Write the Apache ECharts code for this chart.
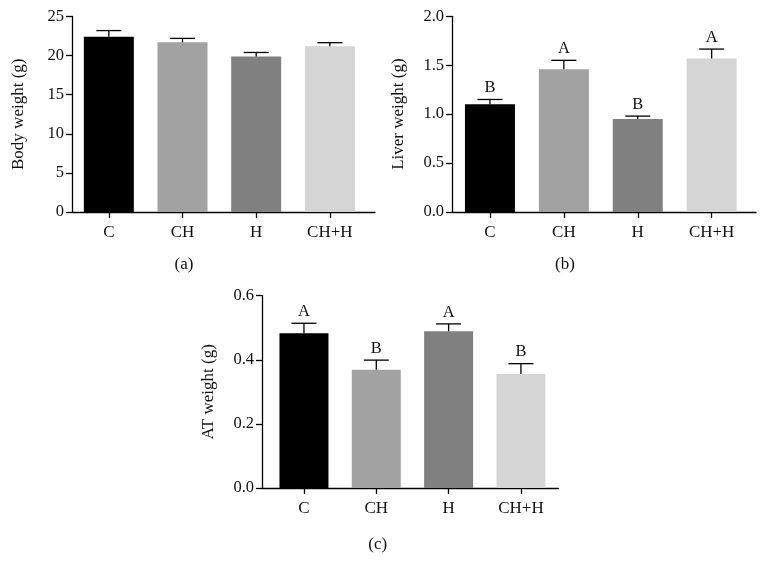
<!DOCTYPE html>
<html>
<head>
<meta charset="utf-8">
<script src="https://cdn.jsdelivr.net/npm/echarts@6/dist/echarts.min.js"></script>
<style>html,body{margin:0;padding:0;background:#fff;}#c{width:760px;height:575px;}</style>
</head>
<body>
<div id="c"></div>
<script>
const categories = ['C', 'CH', 'H', 'CH+H'];
const barColors = ['#000000', '#a2a2a2', '#808080', '#d5d5d5'];

const bodyMean = [22.4, 21.7, 19.9, 21.2];
const bodySem = [0.8, 0.5, 0.5, 0.45];
const bodyTicks = [0, 5, 10, 15, 20, 25];

const liverMean = [1.10, 1.46, 0.95, 1.57];
const liverSem = [0.05, 0.09, 0.03, 0.095];
const liverLetters = ['B', 'A', 'B', 'A'];
const liverTicks = [0.0, 0.5, 1.0, 1.5, 2.0];

const atMean = [0.483, 0.369, 0.489, 0.356];
const atSem = [0.031, 0.030, 0.023, 0.032];
const atLetters = ['A', 'B', 'A', 'B'];
const atTicks = [0.0, 0.2, 0.4, 0.6];

const FONT = '"Liberation Serif", "Times New Roman", serif';
const TXT = '#111';

const panels = [
  {frame: {left: 72, top: 16.5, width: 303, height: 195.5}, data: {left: 72, width: 294.7},
   mean: bodyMean, sem: bodySem, letters: null, ticks: bodyTicks, name: 'Body weight (g)', dec: 0, barW: 50, tag: '(a)', tagPos: [184, 265]},
  {frame: {left: 452, top: 16.3, width: 304, height: 195.7}, data: {left: 453, width: 295.6},
   mean: liverMean, sem: liverSem, letters: liverLetters, ticks: liverTicks, name: 'Liver weight (g)', dec: 1, barW: 50, tag: '(b)', tagPos: [565, 265]},
  {frame: {left: 262, top: 295.7, width: 296.3, height: 192.3}, data: {left: 267.8, width: 289.3},
   mean: atMean, sem: atSem, letters: atLetters, ticks: atTicks, name: 'AT weight (g)', dec: 1, barW: 49, tag: '(c)', tagPos: [377.7, 545]}
];

const grid = [], xAxis = [], yAxis = [], series = [], graphic = [];

panels.forEach((p, i) => {
  const fi = grid.length;
  grid.push(Object.assign({}, p.frame));
  const di = grid.length;
  grid.push({left: p.data.left, top: p.frame.top, width: p.data.width, height: p.frame.height});
  const tmin = p.ticks[0], tmax = p.ticks[p.ticks.length - 1];
  const step = p.ticks[1] - p.ticks[0];
  xAxis.push({gridIndex: fi, type: 'category', data: categories, axisLine: {show: true, lineStyle: {color: '#000', width: 1.3}},
    axisTick: {show: false}, axisLabel: {show: false}, splitLine: {show: false}});
  yAxis.push({gridIndex: fi, type: 'value', min: tmin, max: tmax, interval: step,
    axisLine: {show: true, lineStyle: {color: '#000', width: 1.3}},
    axisTick: {show: true, length: 6, lineStyle: {color: '#000', width: 1.3}},
    axisLabel: {color: TXT, fontFamily: FONT, fontSize: 16.5, margin: 8, formatter: v => Number(v).toFixed(p.dec)},
    splitLine: {show: false},
    name: p.name, nameLocation: 'middle', nameGap: 45, nameRotate: 90,
    nameTextStyle: {color: TXT, fontFamily: FONT, fontSize: 17}});
  const xi = xAxis.length;
  xAxis.push({gridIndex: di, type: 'category', data: categories, axisLine: {show: false},
    axisTick: {show: true, alignWithLabel: true, length: 6, lineStyle: {color: '#000', width: 1.3}},
    axisLabel: {color: TXT, fontFamily: FONT, fontSize: 17, margin: 12}, splitLine: {show: false}});
  const yi = yAxis.length;
  yAxis.push({gridIndex: di, type: 'value', min: tmin, max: tmax, show: false, splitLine: {show: false}});
  series.push({type: 'bar', xAxisIndex: xi, yAxisIndex: yi, barWidth: p.barW, z: 2,
    data: p.mean.map((v, k) => ({value: v, itemStyle: {color: barColors[k]}}))});
  const letters = p.letters;
  series.push({type: 'custom', xAxisIndex: xi, yAxisIndex: yi, z: 5,
    data: p.mean.map((v, k) => [k, v, p.sem[k]]),
    renderItem: function (params, api) {
      const k = api.value(0), m = api.value(1), s = api.value(2);
      const p0 = api.coord([k, m]);
      const p1 = api.coord([k, m + s]);
      const hw = 12.5;
      const children = [
        {type: 'line', shape: {x1: p0[0], y1: p0[1], x2: p1[0], y2: p1[1]}, style: {stroke: '#000', lineWidth: 1.3}},
        {type: 'line', shape: {x1: p1[0] - hw, y1: p1[1], x2: p1[0] + hw, y2: p1[1]}, style: {stroke: '#000', lineWidth: 1.3}}
      ];
      if (letters) {
        children.push({type: 'text', x: p1[0], y: p1[1] - 3,
          style: {text: letters[params.dataIndex], fill: TXT, font: '16.5px ' + FONT, textAlign: 'center', textVerticalAlign: 'bottom'}});
      }
      return {type: 'group', children: children};
    }});
  graphic.push({type: 'text', x: p.tagPos[0], y: p.tagPos[1],
    style: {text: p.tag, fill: TXT, font: '17px ' + FONT, textAlign: 'center', textVerticalAlign: 'middle'}});
});

const chart = echarts.init(document.getElementById('c'), null, {renderer: 'canvas'});
chart.setOption({backgroundColor: '#fff', animation: false, grid, xAxis, yAxis, series, graphic});
</script>
</body>
</html>
